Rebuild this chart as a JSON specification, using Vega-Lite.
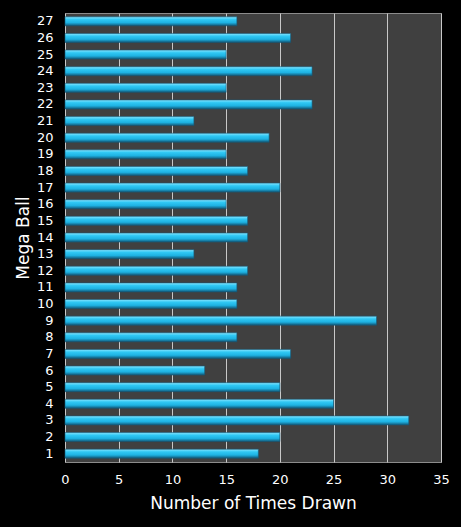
{
  "$schema": "https://vega.github.io/schema/vega-lite/v6.json",
  "description": "Mega Ball: number of times each ball was drawn.",
  "autosize": "none",
  "width": 376,
  "height": 449,
  "padding": {"left": 65, "top": 13, "right": 20, "bottom": 65},
  "background": "#000000",
  "config": {
    "view": {"fill": "#404040", "stroke": "#8c8c8c", "strokeWidth": 1},
    "font": "DejaVu Sans"
  },
  "data": {
    "values": [
      {"ball": "1", "drawn": 18},
      {"ball": "2", "drawn": 20},
      {"ball": "3", "drawn": 32},
      {"ball": "4", "drawn": 25},
      {"ball": "5", "drawn": 20},
      {"ball": "6", "drawn": 13},
      {"ball": "7", "drawn": 21},
      {"ball": "8", "drawn": 16},
      {"ball": "9", "drawn": 29},
      {"ball": "10", "drawn": 16},
      {"ball": "11", "drawn": 16},
      {"ball": "12", "drawn": 17},
      {"ball": "13", "drawn": 12},
      {"ball": "14", "drawn": 17},
      {"ball": "15", "drawn": 17},
      {"ball": "16", "drawn": 15},
      {"ball": "17", "drawn": 20},
      {"ball": "18", "drawn": 17},
      {"ball": "19", "drawn": 15},
      {"ball": "20", "drawn": 19},
      {"ball": "21", "drawn": 12},
      {"ball": "22", "drawn": 23},
      {"ball": "23", "drawn": 15},
      {"ball": "24", "drawn": 23},
      {"ball": "25", "drawn": 15},
      {"ball": "26", "drawn": 21},
      {"ball": "27", "drawn": 16}
    ]
  },
  "mark": {
    "type": "bar",
    "size": 9,
    "stroke": "#155a7a",
    "strokeWidth": 0.6,
    "fill": {
      "gradient": "linear",
      "x1": 0, "y1": 0, "x2": 0, "y2": 1,
      "stops": [
        {"offset": 0, "color": "#8ae6ff"},
        {"offset": 0.3, "color": "#30c8f4"},
        {"offset": 0.65, "color": "#1eb2e2"},
        {"offset": 1, "color": "#115878"}
      ]
    }
  },
  "encoding": {
    "y": {
      "field": "ball",
      "type": "ordinal",
      "scale": {
        "domain": ["27","26","25","24","23","22","21","20","19","18","17","16","15","14","13","12","11","10","9","8","7","6","5","4","3","2","1"],
        "paddingInner": 0.5,
        "paddingOuter": 0.25
      },
      "title": "Mega Ball",
      "axis": {
        "domain": false,
        "ticks": false,
        "labelColor": "#ffffff",
        "labelFontSize": 13,
        "labelPadding": 12,
        "titleColor": "#ffffff",
        "titleFontSize": 17,
        "titleFontWeight": "normal",
        "titlePadding": 4
      }
    },
    "x": {
      "field": "drawn",
      "type": "quantitative",
      "scale": {"domain": [0, 35], "nice": false},
      "title": "Number of Times Drawn",
      "axis": {
        "values": [0, 5, 10, 15, 20, 25, 30, 35],
        "grid": true,
        "gridColor": "#c8c8c8",
        "gridWidth": 1,
        "domain": false,
        "ticks": false,
        "labelColor": "#ffffff",
        "labelFontSize": 13,
        "labelPadding": 11,
        "labelFlush": false,
        "titleColor": "#ffffff",
        "titleFontSize": 17,
        "titleFontWeight": "normal",
        "titlePadding": 9
      }
    }
  }
}
